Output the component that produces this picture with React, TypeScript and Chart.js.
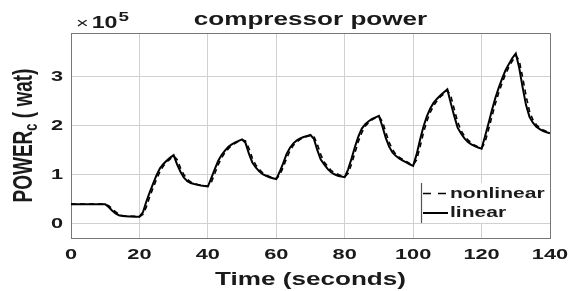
import { useEffect, useRef } from 'react';
import { Chart, registerables } from 'chart.js';

Chart.register(...registerables);

// time in seconds
const timeSeconds = [
  0, 10, 11, 12, 13, 14, 15, 16, 17, 18, 19, 20,
  21, 22, 23, 24, 25, 26, 27, 28, 29, 30,
  31, 32, 33, 34, 35, 36, 37, 38, 39, 40,
  41, 42, 43, 44, 45, 46, 47, 48, 49, 50,
  51, 52, 53, 54, 55, 56, 57, 58, 59, 60,
  61, 62, 63, 64, 65, 66, 67, 68, 69, 70,
  71, 72, 73, 74, 75, 76, 77, 78, 79, 80,
  81, 82, 83, 84, 85, 86, 87, 88, 89, 90,
  91, 92, 93, 94, 95, 96, 97, 98, 99, 100,
  101, 102, 103, 104, 105, 106, 107, 108, 109, 110,
  111, 112, 113, 114, 115, 116, 117, 118, 119, 120,
  121, 122, 123, 124, 125, 126, 127, 128, 129, 130,
  131, 132, 133, 134, 135, 136, 137, 138, 139, 140,
];

// compressor power, units of 1e5 W
const linearPower = [
  0.39, 0.39, 0.33, 0.26, 0.2, 0.165, 0.15, 0.145, 0.14, 0.14, 0.135, 0.135,
  0.22, 0.44, 0.63, 0.81, 0.98, 1.12, 1.21, 1.28, 1.34, 1.39,
  1.2, 1.05, 0.93, 0.86, 0.82, 0.8, 0.785, 0.77, 0.76, 0.75,
  0.92, 1.1, 1.27, 1.39, 1.48, 1.56, 1.61, 1.65, 1.68, 1.71,
  1.64, 1.42, 1.24, 1.14, 1.06, 1.0, 0.97, 0.94, 0.92, 0.9,
  1.05, 1.22, 1.41, 1.54, 1.63, 1.69, 1.73, 1.76, 1.78, 1.8,
  1.72, 1.49, 1.3, 1.2, 1.11, 1.04, 1.0, 0.97, 0.955, 0.94,
  1.1, 1.32, 1.56, 1.77, 1.93, 2.02, 2.08, 2.13, 2.16, 2.19,
  1.98, 1.74, 1.56, 1.44, 1.37, 1.32, 1.28, 1.24, 1.2, 1.17,
  1.4, 1.7, 1.97, 2.18, 2.34, 2.46, 2.54, 2.61, 2.67, 2.73,
  2.45, 2.19, 1.95, 1.83, 1.73, 1.66, 1.61, 1.575, 1.545, 1.52,
  1.77, 2.03, 2.3, 2.55, 2.76, 2.95, 3.12, 3.25, 3.37, 3.46,
  3.17, 2.77, 2.41, 2.17, 2.05, 1.97, 1.92, 1.88, 1.855, 1.835,
];

const nonlinearPower = [
  0.39, 0.39, 0.36, 0.3, 0.235, 0.185, 0.16, 0.15, 0.145, 0.14, 0.14, 0.135,
  0.18, 0.33, 0.54, 0.72, 0.9, 1.05, 1.17, 1.25, 1.31, 1.37,
  1.3, 1.13, 0.99, 0.9, 0.84, 0.81, 0.79, 0.78, 0.765, 0.755,
  0.83, 1.01, 1.19, 1.33, 1.44, 1.52, 1.59, 1.63, 1.67, 1.7,
  1.68, 1.53, 1.33, 1.19, 1.1, 1.03, 0.985, 0.955, 0.93, 0.91,
  0.98, 1.14, 1.32, 1.48, 1.59, 1.66, 1.71, 1.75, 1.77, 1.79,
  1.77, 1.61, 1.4, 1.25, 1.16, 1.08, 1.03, 1.0, 0.97, 0.95,
  1.02, 1.21, 1.44, 1.67, 1.85, 1.98, 2.05, 2.11, 2.15, 2.18,
  2.08, 1.86, 1.65, 1.5, 1.4, 1.345, 1.3, 1.26, 1.22, 1.19,
  1.29, 1.55, 1.84, 2.08, 2.26, 2.4, 2.5, 2.58, 2.64, 2.71,
  2.6, 2.33, 2.07, 1.89, 1.78, 1.7, 1.64, 1.59, 1.56, 1.53,
  1.65, 1.9, 2.17, 2.43, 2.66, 2.86, 3.04, 3.19, 3.31, 3.42,
  3.32, 2.98, 2.6, 2.29, 2.11, 2.01, 1.945, 1.9, 1.87, 1.845,
];

const xTickValues = [0, 20, 40, 60, 80, 100, 120, 140];
const yTickValues = [0, 1, 2, 3];
const xRange = [0, 140];
const yRange = [-0.3, 3.88];

const seriesLabels = ['nonlinear', 'linear'];
const titleText = 'compressor power';
const xTitleText = 'Time (seconds)';
const yTitleMain = 'POWER';
const yTitleSub = 'c';
const yTitleRest = ' ( wat)';
const exponentBase = '10';
const exponentPower = '5';

const SX = 1.45;
const FONT = '"Liberation Sans", Arial, sans-serif';

function stretchedText(
  ctx: CanvasRenderingContext2D,
  text: string,
  x: number,
  y: number,
  font: string,
  align: 'left' | 'center' | 'right',
  baseline: CanvasTextBaseline
) {
  ctx.save();
  ctx.font = font;
  ctx.textBaseline = baseline;
  ctx.textAlign = 'left';
  const w = ctx.measureText(text).width * SX;
  const left = align === 'center' ? x - w / 2 : align === 'right' ? x - w : x;
  ctx.translate(left, y);
  ctx.scale(SX, 1);
  ctx.fillText(text, 0, 0);
  ctx.restore();
  return w;
}

const decorPlugin = {
  id: 'decor',
  afterDraw(chart: any) {
    const ctx: CanvasRenderingContext2D = chart.ctx;
    const xs = chart.scales.x;
    const ys = chart.scales.y;
    const area = chart.chartArea;
    ctx.save();

    // top & right box edges
    ctx.strokeStyle = '#777';
    ctx.lineWidth = 1;
    ctx.beginPath();
    ctx.moveTo(area.left, area.top + 0.5);
    ctx.lineTo(area.right + 0.5, area.top + 0.5);
    ctx.lineTo(area.right + 0.5, area.bottom);
    ctx.stroke();

    ctx.fillStyle = '#1a1a1a';
    // tick labels
    const tickFont = `bold 15px ${FONT}`;
    xTickValues.forEach((v) => {
      stretchedText(ctx, String(v), xs.getPixelForValue(v), 255, tickFont, 'center', 'middle');
    });
    yTickValues.forEach((v) => {
      stretchedText(ctx, String(v), 63, ys.getPixelForValue(v) + 1, tickFont, 'right', 'middle');
    });

    // title
    const cx = (area.left + area.right) / 2;
    stretchedText(ctx, titleText, cx, 25, `bold 18px ${FONT}`, 'center', 'alphabetic');
    // x title
    stretchedText(ctx, xTitleText, cx, 285, `bold 18px ${FONT}`, 'center', 'alphabetic');

    // exponent label
    let ex = 76;
    ex += stretchedText(ctx, '\u00d7', ex, 28, `15px ${FONT}`, 'left', 'alphabetic') + 3;
    ex += stretchedText(ctx, exponentBase, ex, 28, `bold 16px ${FONT}`, 'left', 'alphabetic') + 1;
    stretchedText(ctx, exponentPower, ex, 21, `bold 13px ${FONT}`, 'left', 'alphabetic');

    // y title (rotated, stretched horizontally)
    {
      const mainFont = `bold 19px ${FONT}`;
      const subFont = `bold 13px ${FONT}`;
      ctx.save();
      ctx.font = mainFont;
      const w1 = ctx.measureText(yTitleMain).width;
      const w3 = ctx.measureText(yTitleRest).width;
      ctx.font = subFont;
      const w2 = ctx.measureText(yTitleSub).width;
      const total = w1 + w2 + w3;
      const cy = (area.top + area.bottom) / 2;
      ctx.translate(31.5, cy);
      ctx.scale(SX, 1);
      ctx.rotate(-Math.PI / 2);
      ctx.textBaseline = 'alphabetic';
      ctx.textAlign = 'left';
      let u = -total / 2;
      ctx.font = mainFont;
      ctx.fillText(yTitleMain, u, 0);
      u += w1;
      ctx.font = subFont;
      ctx.fillText(yTitleSub, u, 4);
      u += w2;
      ctx.font = mainFont;
      ctx.fillText(yTitleRest, u, 0);
      ctx.restore();
    }

    // legend
    const lx = 421;
    const ly = 183;
    const lw = area.right - lx - 1;
    const lh = 40;
    ctx.fillStyle = '#ffffff';
    ctx.fillRect(lx, ly, lw, lh);
    ctx.strokeStyle = '#555';
    ctx.lineWidth = 1.2;
    ctx.beginPath();
    ctx.moveTo(lx + 0.5, ly);
    ctx.lineTo(lx + 0.5, ly + lh);
    ctx.stroke();

    ctx.strokeStyle = '#000';
    ctx.lineWidth = 1.6;
    ctx.setLineDash([8, 7]);
    ctx.beginPath();
    ctx.moveTo(423, 193.5);
    ctx.lineTo(448, 193.5);
    ctx.stroke();
    ctx.setLineDash([]);
    ctx.lineWidth = 2;
    ctx.beginPath();
    ctx.moveTo(423, 213);
    ctx.lineTo(448, 213);
    ctx.stroke();

    ctx.fillStyle = '#1a1a1a';
    const legFont = `bold 14.5px ${FONT}`;
    stretchedText(ctx, seriesLabels[0], 450, 194, legFont, 'left', 'middle');
    stretchedText(ctx, seriesLabels[1], 450, 213, legFont, 'left', 'middle');

    ctx.restore();
  },
};

export default function App() {
  const canvasRef = useRef<HTMLCanvasElement | null>(null);

  useEffect(() => {
    document.body.style.margin = '0';
    const canvas = canvasRef.current;
    if (!canvas) return;
    const chart = new Chart(canvas, {
      type: 'line',
      data: {
        datasets: [
          {
            label: seriesLabels[0],
            data: timeSeconds.map((t, i) => ({ x: t, y: nonlinearPower[i] })),
            borderColor: '#000',
            borderWidth: 1.6,
            borderDash: [5, 4],
            pointRadius: 0,
            tension: 0,
            fill: false,
          },
          {
            label: seriesLabels[1],
            data: timeSeconds.map((t, i) => ({ x: t, y: linearPower[i] })),
            borderColor: '#000',
            borderWidth: 2,
            pointRadius: 0,
            tension: 0,
            fill: false,
          },
        ],
      },
      options: {
        animation: false,
        responsive: false,
        devicePixelRatio: 1,
        layout: { padding: { top: 33, right: 20, left: 0, bottom: 0 } },
        plugins: {
          legend: { display: false },
          title: { display: false },
          tooltip: { enabled: false },
        },
        scales: {
          x: {
            type: 'linear',
            min: xRange[0],
            max: xRange[1],
            afterBuildTicks: (s: any) => {
              s.ticks = xTickValues.map((v) => ({ value: v }));
            },
            afterFit: (s: any) => {
              s.height = 53;
            },
            ticks: { display: false },
            grid: { color: '#d0d0d0', lineWidth: 1, tickLength: 0, drawTicks: false },
            border: { display: true, color: '#777', width: 1 },
          },
          y: {
            type: 'linear',
            min: yRange[0],
            max: yRange[1],
            afterBuildTicks: (s: any) => {
              s.ticks = yTickValues.map((v) => ({ value: v }));
            },
            afterFit: (s: any) => {
              s.width = 71;
            },
            ticks: { display: false },
            grid: { color: '#d0d0d0', lineWidth: 1, tickLength: 0, drawTicks: false },
            border: { display: true, color: '#777', width: 1 },
          },
        },
      },
      plugins: [decorPlugin],
    } as any);
    return () => chart.destroy();
  }, []);

  return (
    <div style={{ position: 'fixed', left: 0, top: 0, width: 570, height: 291, background: '#fff' }}>
      <canvas ref={canvasRef} width={570} height={291} style={{ width: 570, height: 291, display: 'block' }} />
    </div>
  );
}
